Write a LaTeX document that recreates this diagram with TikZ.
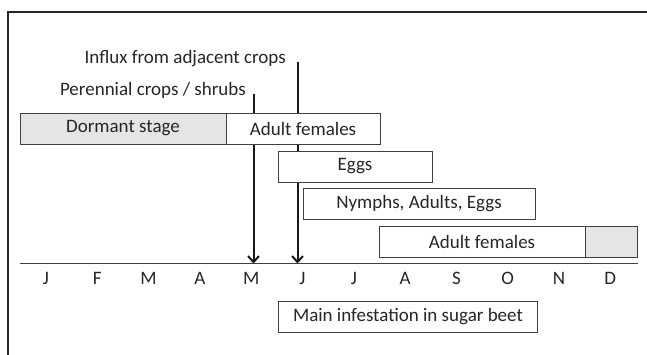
\documentclass[tikz,border=0pt]{standalone}
\usepackage{fontspec}
\setmainfont{Carlito}
\usetikzlibrary{arrows.meta}
\begin{document}
\begin{tikzpicture}[x=1pt,y=-1pt,
  stagebox/.style={draw=black!75,line width=0.9pt,fill=white,rectangle,inner sep=0pt,minimum height=31pt,font=\fontsize{19}{21}\selectfont,text=black!85},
  shadebox/.style={stagebox,fill=black!10},
  monthlbl/.style={font=\fontsize{19}{21}\selectfont,text=black!85,inner sep=0pt},
  srclbl/.style={font=\fontsize{19}{21}\selectfont,text=black!85,inner sep=0pt,anchor=east},
  influx/.style={line width=2pt,black!90,-{Straight Barb[length=6pt,width=11pt,line width=2pt]}}]
\useasboundingbox (0,0) rectangle (647,354);
% outer frame (cut at right and bottom)
\draw[black!85,line width=1.2pt] (8,360) -- (8,12) -- (650,12);
% source labels
\node[srclbl] (pertext) at (246,90) {Perennial crops / shrubs};
\node[srclbl] (inftext) at (286,59) {Influx from adjacent crops};
% axis
\coordinate (axL) at (20,263.5);
\coordinate (axR) at (638,263.5);
\draw[black!75,line width=1.3pt] (axL) -- (axR);
% arrows
\coordinate (perTop) at (253.5,94);
\coordinate (perBot) at (253.5,263.5);
\coordinate (infTop) at (297.5,62);
\coordinate (infBot) at (297.5,263.5);
\draw[influx] (perTop) -- (perBot);
\draw[influx] (infTop) -- (infBot);
% stage boxes
\node[shadebox,minimum width=206pt] (dormant) at (123,128.5) {Dormant stage};
\node[stagebox,minimum width=154pt] (adult1) at (303,128.5) {Adult females};
\node[stagebox,minimum width=154pt] (eggs) at (355,166.5) {Eggs};
\node[stagebox,minimum width=232pt] (nymphs) at (419,204) {Nymphs, Adults, Eggs};
\node[stagebox,minimum width=206pt] (adult2) at (482,242) {Adult females};
\node[shadebox,minimum width=52pt] (dorm2) at (611,242) {};
% months
\foreach \m [count=\i from 0] in {J,F,M,A,M,J,J,A,S,O,N,D}{
  \node[monthlbl] (mon\i) at ({46+51.3*\i},278) {\m};
}
% main infestation
\node[stagebox,minimum width=259pt] (main) at (408,316.5) {Main infestation in sugar beet};
\end{tikzpicture}
\end{document}
